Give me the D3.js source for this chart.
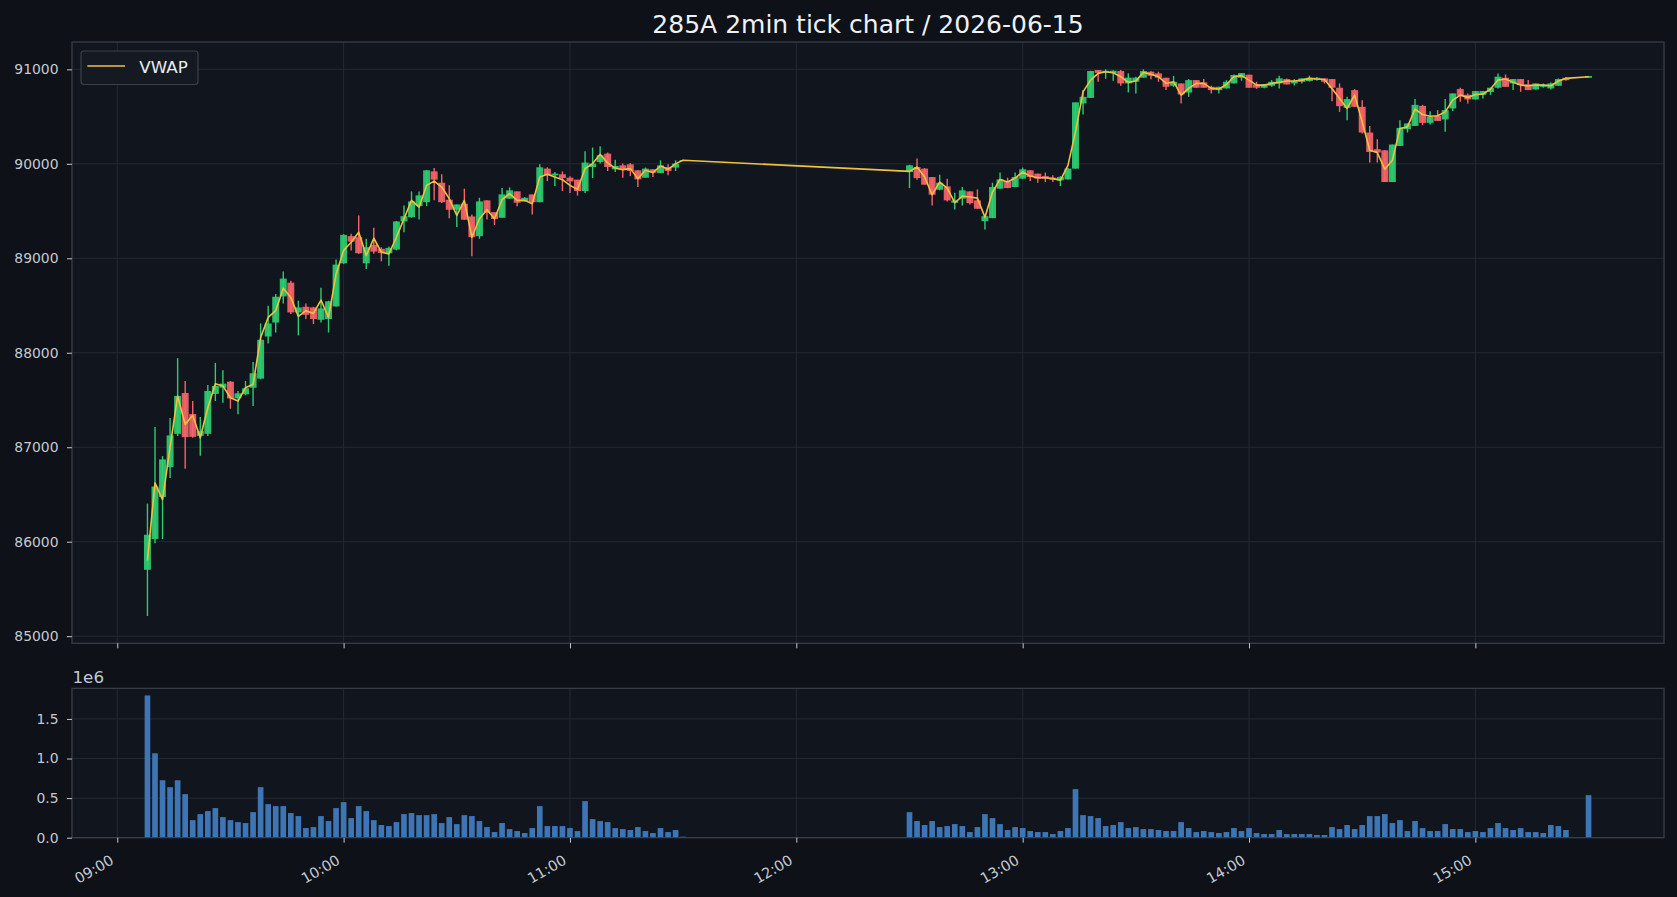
<!DOCTYPE html>
<html>
<head>
<meta charset="utf-8">
<script src="https://cdn.jsdelivr.net/npm/d3@7"></script>
<style>
  body { margin: 0; background: #0e1117; }
  text { font-family: "DejaVu Sans", sans-serif; }
</style>
</head>
<body>
<div id="chart"></div>
<script>
// 2-minute bars, 285A, 2026-06-15
const day = "2026-06-15";

const times = [
  "09:08","09:10","09:12","09:14","09:16","09:18","09:20","09:22","09:24","09:26","09:28","09:30","09:32","09:34","09:36","09:38","09:40","09:42","09:44","09:46","09:48","09:50","09:52","09:54","09:56","09:58",
  "10:00","10:02","10:04","10:06","10:08","10:10","10:12","10:14","10:16","10:18","10:20","10:22","10:24","10:26","10:28","10:30","10:32","10:34","10:36","10:38","10:40","10:42","10:44","10:46","10:48","10:50","10:52","10:54","10:56","10:58",
  "11:00","11:02","11:04","11:06","11:08","11:10","11:12","11:14","11:16","11:18","11:20","11:22","11:24","11:26","11:28","11:30",
  "12:30","12:32","12:34","12:36","12:38","12:40","12:42","12:44","12:46","12:48","12:50","12:52","12:54","12:56","12:58",
  "13:00","13:02","13:04","13:06","13:08","13:10","13:12","13:14","13:16","13:18","13:20","13:22","13:24","13:26","13:28","13:30","13:32","13:34","13:36","13:38","13:40","13:42","13:44","13:46","13:48","13:50","13:52","13:54","13:56","13:58",
  "14:00","14:02","14:04","14:06","14:08","14:10","14:12","14:14","14:16","14:18","14:20","14:22","14:24","14:26","14:28","14:30","14:32","14:34","14:36","14:38","14:40","14:42","14:44","14:46","14:48","14:50","14:52","14:54","14:56","14:58",
  "15:00","15:02","15:04","15:06","15:08","15:10","15:12","15:14","15:16","15:18","15:20","15:22","15:24","15:30"
];

const open = [
  85703,86028,86473,86789,87142,87574,87351,87120,87142,87564,87630,87694,87518,87561,87630,87726,88172,88320,88597,88742,88427,88487,88480,88349,88357,88490,
  88947,89234,89223,88947,89142,89100,89053,89092,89390,89435,89552,89594,89920,89800,89620,89514,89577,89443,89234,89613,89488,89429,89631,89708,89602,89676,89594,89949,89878,89889,
  89853,89832,89711,89966,90019,90108,89942,89984,89995,89931,89853,89942,89902,89966,89960,90030,
  89913,89966,89949,89860,89726,89761,89588,89631,89708,89613,89393,89425,89737,89814,89754,
  89843,89931,89896,89870,89853,89825,89835,89949,90639,90698,90992,90963,90960,90982,90851,90869,90912,90975,90957,90911,90826,90851,90755,90886,90862,90815,90780,90798,90851,90910,
  90943,90840,90805,90826,90851,90897,90851,90868,90876,90890,90904,90897,90805,90592,90780,90603,90331,90154,90143,89807,90189,90366,90401,90613,90433,90508,90469,90586,90791,90731,
  90681,90730,90760,90805,90911,90851,90897,90840,90787,90815,90798,90826,90911,90910
];
const high = [
  86403,87213,86906,87309,87943,87702,87489,87320,87659,87893,87815,87700,87596,87702,87903,88310,88498,88622,88859,88763,88551,88522,88487,88689,88551,88986,
  89255,89259,89453,89206,89323,89117,89124,89395,89559,89708,89708,89935,89955,89889,89772,89570,89737,89464,89641,89613,89488,89743,89750,89708,89645,89676,89995,89963,89913,89920,
  89867,89832,90133,90172,90186,90119,90044,90002,90008,89931,89960,89942,90037,89995,90037,90044,
  89990,90055,89955,89860,89885,89843,89694,89754,89708,89729,89446,89800,89907,89853,89907,
  89960,89931,89896,89907,89878,89870,89955,90650,90780,90985,90992,91000,90990,90992,90957,90922,91000,90982,90975,90911,90930,90851,90897,90886,90897,90826,90815,90886,90945,90960,
  90943,90869,90845,90886,90933,90904,90897,90904,90933,90920,90904,90897,90851,90709,90791,90674,90401,90260,90143,90204,90462,90427,90685,90624,90557,90568,90685,90745,90805,90745,
  90770,90770,90805,90957,90946,90897,90897,90886,90851,90850,90860,90904,90920,90930
];
const low = [
  85214,85985,86028,86675,87118,86771,87100,86910,87118,87489,87471,87408,87348,87550,87436,87720,88098,88214,88522,88410,88183,88357,88304,88320,88214,88490,
  88940,89082,89047,88887,89047,88968,88920,89085,89276,89430,89411,89552,89613,89584,89425,89331,89408,89021,89206,89411,89352,89429,89631,89552,89600,89464,89594,89817,89764,89711,
  89690,89663,89690,89849,90002,89923,89913,89853,89870,89754,89853,89860,89902,89878,89924,90030,
  89743,89832,89779,89559,89720,89602,89517,89559,89570,89524,89305,89425,89737,89743,89754,
  89843,89817,89800,89807,89807,89764,89835,89949,90522,90698,90868,90900,90880,90826,90756,90745,90912,90894,90868,90780,90815,90639,90709,90805,90805,90745,90745,90798,90851,90880,
  90805,90794,90800,90815,90798,90840,90830,90850,90870,90880,90850,90663,90550,90460,90603,90320,90013,90013,89807,89807,90189,90331,90401,90409,90416,90454,90338,90560,90656,90639,
  90681,90692,90730,90798,90815,90780,90762,90780,90787,90805,90787,90826,90880,90910
];
const close = [
  86074,86584,86871,87125,87543,87107,87110,87170,87596,87649,87673,87516,87571,87624,87783,88137,88310,88593,88785,88427,88480,88402,88357,88469,88544,88933,
  89248,89177,89053,89117,89071,89057,89110,89390,89446,89602,89666,89931,89832,89594,89514,89570,89408,89223,89602,89482,89416,89676,89719,89588,89641,89594,89963,89878,89896,89849,
  89814,89711,90013,90002,90090,89966,89977,89938,89924,89835,89949,89906,89984,89924,90002,90040,
  89984,89849,89779,89673,89800,89613,89613,89719,89584,89524,89446,89754,89835,89743,89860,
  89942,89860,89843,89843,89832,89860,89949,90650,90709,90982,90963,90985,90985,90851,90912,90912,90982,90932,90911,90815,90868,90734,90886,90805,90805,90780,90815,90868,90940,90960,
  90805,90805,90840,90868,90904,90840,90876,90904,90911,90911,90868,90805,90610,90685,90603,90331,90125,90119,89807,90204,90380,90427,90624,90433,90497,90454,90568,90745,90720,90681,
  90770,90770,90805,90922,90815,90897,90833,90780,90851,90840,90851,90897,90886,90930
];
const vwap = [
  85801,86622,86446,87000,87543,87242,87338,87100,87418,87673,87649,87524,87489,87630,87666,88161,88374,88445,88682,88586,88385,88445,88416,88558,88374,88832,
  89082,89170,89276,89029,89212,89064,89047,89223,89418,89613,89541,89772,89817,89754,89631,89453,89613,89223,89418,89514,89418,89620,89684,89613,89613,89578,89860,89889,89860,89832,
  89772,89729,89949,90002,90101,90009,89955,89938,89949,89843,89931,89907,89977,89942,90002,90037,
  89920,89966,89860,89673,89807,89743,89588,89658,89648,89637,89435,89701,89835,89807,89849,
  89913,89870,89853,89853,89843,89825,89984,90338,90762,90886,90957,90975,90964,90922,90862,90876,90968,90947,90922,90851,90869,90727,90798,90851,90851,90798,90791,90840,90922,90933,
  90886,90833,90833,90851,90862,90876,90876,90886,90904,90897,90893,90798,90692,90586,90727,90444,90143,90119,89942,90037,90374,90391,90579,90522,90504,90508,90550,90674,90727,90703,
  90734,90738,90791,90886,90897,90862,90833,90826,90833,90833,90826,90876,90904,90922
];
const volume = [
  1797000,1066000,726000,638000,726000,550000,222000,298000,336000,374000,260000,222000,197000,185000,323000,638000,424000,399000,399000,311000,273000,122000,134000,273000,210000,374000,
  449000,248000,399000,336000,222000,160000,147000,197000,298000,311000,285000,285000,298000,185000,260000,172000,285000,273000,210000,134000,71000,185000,109000,84000,59000,122000,399000,147000,147000,147000,
  122000,84000,462000,235000,210000,197000,122000,109000,97000,134000,84000,59000,122000,71000,97000,13000,
  323000,210000,160000,210000,134000,147000,172000,147000,71000,134000,298000,248000,172000,97000,134000,
  122000,84000,71000,71000,46000,84000,122000,613000,285000,273000,248000,147000,160000,197000,122000,134000,109000,109000,97000,84000,84000,197000,122000,71000,84000,71000,59000,71000,122000,84000,
  122000,59000,46000,46000,97000,46000,46000,46000,46000,34000,34000,134000,109000,160000,109000,160000,273000,273000,298000,185000,222000,84000,210000,122000,84000,84000,172000,109000,109000,71000,
  84000,71000,122000,185000,122000,97000,122000,71000,71000,59000,160000,147000,97000,537000
];
const priceTicks = [85000, 86000, 87000, 88000, 89000, 90000, 91000];
const volTicks = [0, 500000, 1000000, 1500000];

let w = 1677;
let h = 897;
let left = 72, right = 1664;
let mainTop = 42, mainBottom = 643.3;
let volTop = 688.3, volBottom = 837.7;

let upColor = "#2ecc71";
let downColor = "#f5646a";
let vwapColor = "#f0c040";
let gridColor = "#242a34";
let spineColor = "#3b424d";
let tickColor = "#c3cad3";

let parseT = d3.timeParse("%Y-%m-%d %H:%M");
let bars = times.map(function(t, i){
  return {t: parseT(day + " " + t), o: open[i], h: high[i], l: low[i], c: close[i], v: vwap[i], vol: volume[i]};
});

let x = d3.scaleTime()
  .domain([d3.timeMinute.offset(bars[0].t, -20), d3.timeMinute.offset(bars[bars.length-1].t, 20)])
  .range([left, right]);
let lo = d3.min(low), hi = d3.max(high), pad = (hi - lo) * 0.05;
let y = d3.scaleLinear().domain([lo - pad, hi + pad]).range([mainBottom, mainTop]);
let yv = d3.scaleLinear().domain([0, d3.max(volume) * 1.05]).range([volBottom, volTop]);

let minPx = x(d3.timeMinute.offset(bars[0].t, 1)) - x(bars[0].t);
let bodyW = minPx * 1.85;
let volW = minPx * 1.5;

let viz = d3.select("#chart").append("svg")
  .attr("width", w)
  .attr("height", h);

viz.append("rect").attr("width", w).attr("height", h).attr("fill", "#0e1117");

// axes backgrounds
viz.append("rect").attr("x", left).attr("y", mainTop).attr("width", right-left).attr("height", mainBottom-mainTop).attr("fill", "#11151d");
viz.append("rect").attr("x", left).attr("y", volTop).attr("width", right-left).attr("height", volBottom-volTop).attr("fill", "#11151d");

let hourTicks = x.ticks(d3.timeHour.every(1));

// grids
function grid(top, bottom, yScale, yTicks){
  let g = viz.append("g").attr("class", "grid");
  g.selectAll(".gx").data(hourTicks).enter().append("line")
    .attr("x1", d => x(d)).attr("x2", d => x(d))
    .attr("y1", top).attr("y2", bottom)
    .attr("stroke", gridColor).attr("stroke-width", 1);
  g.selectAll(".gy").data(yTicks).enter().append("line")
    .attr("x1", left).attr("x2", right)
    .attr("y1", d => yScale(d)).attr("y2", d => yScale(d))
    .attr("stroke", gridColor).attr("stroke-width", 1);
}
grid(mainTop, mainBottom, y, priceTicks);
grid(volTop, volBottom, yv, volTicks);

// candles
let candles = viz.append("g").attr("class", "candles");
candles.selectAll(".wick").data(bars).enter().append("line")
  .attr("class", "wick")
  .attr("x1", d => x(d.t)).attr("x2", d => x(d.t))
  .attr("y1", d => y(d.h)).attr("y2", d => y(d.l))
  .attr("stroke", d => d.c >= d.o ? upColor : downColor)
  .attr("stroke-width", 1.4);
candles.selectAll(".body").data(bars).enter().append("rect")
  .attr("class", "body")
  .attr("x", d => x(d.t) - bodyW/2)
  .attr("width", bodyW)
  .attr("y", d => y(Math.max(d.o, d.c)))
  .attr("height", d => Math.max(1, Math.abs(y(d.o) - y(d.c))))
  .attr("fill", d => d.c >= d.o ? upColor : downColor)
  .attr("opacity", 0.92);

// vwap
let line = d3.line().x(d => x(d.t)).y(d => y(d.v));
viz.append("path").datum(bars)
  .attr("d", line)
  .attr("fill", "none")
  .attr("stroke", vwapColor)
  .attr("stroke-width", 1.6)
  .attr("stroke-linejoin", "round");

// volume
viz.append("g").selectAll("rect").data(bars).enter().append("rect")
  .attr("x", d => x(d.t) - volW/2)
  .attr("width", volW)
  .attr("y", d => yv(d.vol))
  .attr("height", d => volBottom - yv(d.vol))
  .attr("fill", "#3e75b5");

// spines
[[mainTop, mainBottom], [volTop, volBottom]].forEach(function(p){
  viz.append("rect").attr("x", left).attr("y", p[0]).attr("width", right-left).attr("height", p[1]-p[0])
    .attr("fill", "none").attr("stroke", spineColor).attr("stroke-width", 1.2);
});

function styleAxis(g){
  g.select(".domain").remove();
  g.selectAll(".tick line").attr("stroke", tickColor).attr("stroke-width", 1);
  g.selectAll(".tick text").attr("fill", tickColor).attr("font-size", 13.9).attr("font-family", "DejaVu Sans");
}

// y axes
viz.append("g").attr("transform", "translate(" + left + ",0)")
  .call(d3.axisLeft(y).tickValues(priceTicks).tickSize(5).tickPadding(8.5).tickFormat(d3.format("d")))
  .call(styleAxis);
viz.append("g").attr("transform", "translate(" + left + ",0)")
  .call(d3.axisLeft(yv).tickValues(volTicks).tickSize(5).tickPadding(8.5).tickFormat(d => (d/1e6).toFixed(1)))
  .call(styleAxis);

// x axes
viz.append("g").attr("transform", "translate(0," + mainBottom + ")")
  .call(d3.axisBottom(x).tickValues(hourTicks).tickSize(5).tickFormat(""))
  .call(styleAxis);
let xa = viz.append("g").attr("transform", "translate(0," + volBottom + ")")
  .call(d3.axisBottom(x).tickValues(hourTicks).tickSize(5).tickFormat(d3.timeFormat("%H:%M")))
  .call(styleAxis);
xa.selectAll(".tick text")
  .attr("x", 0).attr("y", 0).attr("dy", null)
  .attr("text-anchor", "end")
  .attr("font-size", 14.5)
  .attr("transform", "translate(-3,25.5) rotate(-30)");

// offset text
viz.append("text").text("1e6")
  .attr("x", 72.5).attr("y", 683)
  .attr("fill", tickColor).attr("font-size", 16.7);

// title
viz.append("text").text("285A 2min tick chart / 2026-06-15")
  .attr("x", (left + right) / 2).attr("y", 32.5)
  .attr("text-anchor", "middle")
  .attr("fill", "#eef2f6").attr("font-size", 25);

// legend
let leg = viz.append("g");
leg.append("rect").attr("x", 81).attr("y", 51).attr("width", 117).attr("height", 33.5).attr("rx", 3)
  .attr("fill", "#151a22").attr("stroke", "#3a414c").attr("stroke-width", 1.2);
leg.append("line").attr("x1", 87.3).attr("x2", 125).attr("y1", 66).attr("y2", 66)
  .attr("stroke", vwapColor).attr("stroke-width", 1.6);
leg.append("text").text("VWAP").attr("x", 139.3).attr("y", 72.5)
  .attr("fill", "#e6edf3").attr("font-size", 16.7);
</script>
</body>
</html>
